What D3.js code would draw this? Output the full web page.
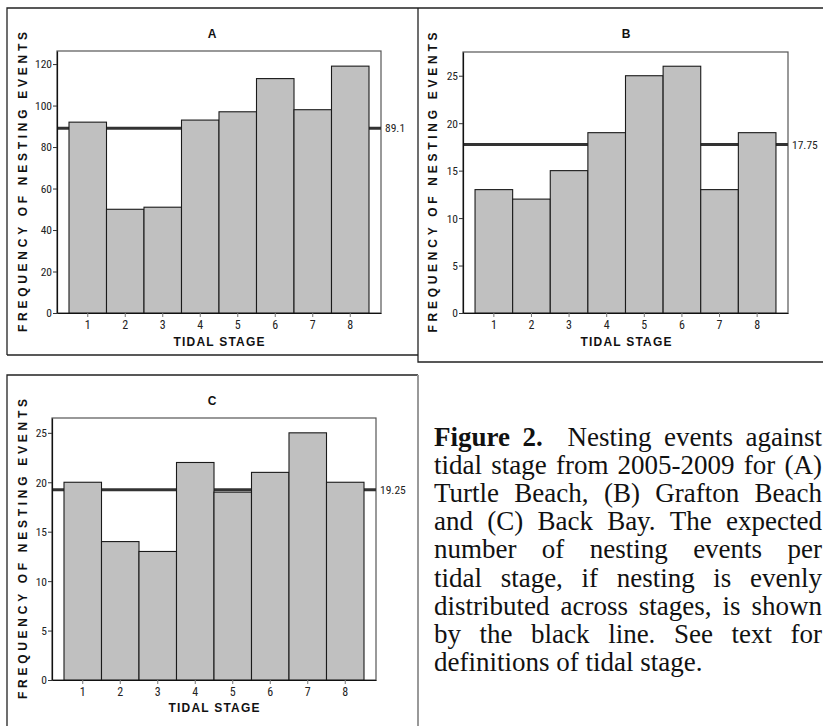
<!DOCTYPE html>
<html>
<head>
<meta charset="utf-8">
<script src="https://cdn.jsdelivr.net/npm/d3@7"></script>
<style>
  html, body { margin: 0; padding: 0; background: #fff; }
  svg { display: block; }
  .num { font-family: "Roboto Condensed", "DejaVu Sans Condensed", sans-serif; fill: #222; }
  .tick text { font-family: "Roboto Condensed", "DejaVu Sans Condensed", sans-serif; fill: #222; }
  .lab { font-family: "Liberation Sans", Arial, sans-serif; font-weight: bold; fill: #111; }
  .cap { font-family: "Liberation Serif", "Times New Roman", serif; fill: #111; }
</style>
</head>
<body>
<svg id="fig" width="823" height="726"></svg>
<script>
// Tidal stages on the x axis
const stages = [1, 2, 3, 4, 5, 6, 7, 8];

// Nesting events per tidal stage, 2005-2009
const turtleBeach  = [92, 50, 51, 93, 97, 113, 98, 119];
const graftonBeach = [13, 12, 15, 19, 25, 26, 13, 19];
const backBay      = [20, 14, 13, 22, 19, 21, 25, 20];

// Expected events per stage if nesting were spread evenly
const expectedA = 89.1;
const expectedB = 17.75;
const expectedC = 19.25;

// Axis ticks
const yTicksA = [0, 20, 40, 60, 80, 100, 120];
const yTicksB = [0, 5, 10, 15, 20, 25];
const yTicksC = [0, 5, 10, 15, 20, 25];

const panelTitles = ["A", "B", "C"];
const xAxisTitle = "TIDAL STAGE";
const yAxisTitle = "FREQUENCY OF NESTING EVENTS";

const captionLead = ["Figure", "2."];
const captionLines = [
  "Nesting events against",
  "tidal stage from 2005-2009 for (A)",
  "Turtle Beach, (B) Grafton Beach",
  "and (C) Back Bay. The expected",
  "number of nesting events per",
  "tidal stage, if nesting is evenly",
  "distributed across stages, is shown",
  "by the black line. See text for",
  "definitions of tidal stage."
];

const svg = d3.select("#fig");

// Panel frames
const frame = svg.append("g").attr("fill", "none").attr("stroke", "#222").attr("stroke-width", 1.3);
frame.append("path").attr("d", "M7,355 V8 H823");          // A left + shared top
frame.append("path").attr("d", "M7,355 H418");             // A bottom
frame.append("path").attr("d", "M418,8 V362 H823");        // divider + B bottom
frame.append("path").attr("d", "M7,726 V375 H418");        // C left + top
frame.append("path").attr("d", "M418,375 V726").attr("stroke", "#999").attr("stroke-width", 2);

const panels = [
  { title: panelTitles[0], values: turtleBeach, expected: expectedA, ticks: yTicksA, yMax: 126.3,
    plot: { l: 57, t: 51, r: 381, b: 313 }, titleX: 212, titleY: 38, xLabX: 219, xLabY: 346, yLabX: 23 },
  { title: panelTitles[1], values: graftonBeach, expected: expectedB, ticks: yTicksB, yMax: 27.5,
    plot: { l: 463, t: 52, r: 788, b: 313 }, titleX: 626, titleY: 38, xLabX: 626, xLabY: 346, yLabX: 433 },
  { title: panelTitles[2], values: backBay, expected: expectedC, ticks: yTicksC, yMax: 26.5,
    plot: { l: 52, t: 418, r: 376, b: 680 }, titleX: 212, titleY: 405, xLabX: 214, xLabY: 712, yLabX: 23 }
];

panels.forEach(p => {
  const { l, t, r, b } = p.plot;
  const g = svg.append("g");

  const x = d3.scaleBand().domain(stages).range([l, r]).paddingInner(0).paddingOuter(0.32);
  const y = d3.scaleLinear().domain([0, p.yMax]).range([b, t]);

  // plot frame
  g.append("rect").attr("x", l).attr("y", t).attr("width", r - l).attr("height", b - t)
    .attr("fill", "#fff").attr("stroke", "#555").attr("stroke-width", 1.2);

  // expected-value line, behind the bars
  g.append("line")
    .attr("x1", l).attr("x2", r)
    .attr("y1", y(p.expected)).attr("y2", y(p.expected))
    .attr("stroke", "#333").attr("stroke-width", 3);

  g.append("text").attr("class", "num")
    .attr("x", r + 4).attr("y", y(p.expected) + 4)
    .attr("font-size", 11.5)
    .text(p.expected);

  // bars
  g.selectAll("rect.bar").data(stages).join("rect")
    .attr("class", "bar")
    .attr("x", d => x(d))
    .attr("width", x.bandwidth())
    .attr("y", (d, i) => y(p.values[i]))
    .attr("height", (d, i) => y(0) - y(p.values[i]))
    .attr("fill", "#c0c0c0").attr("stroke", "#1a1a1a").attr("stroke-width", 1.1);

  // axes
  const ya = g.append("g").attr("transform", `translate(${l},0)`)
    .call(d3.axisLeft(y).tickValues(p.ticks).tickSize(4).tickPadding(1).tickSizeOuter(0));
  ya.select(".domain").attr("stroke", "#111").attr("stroke-width", 1.2);
  ya.selectAll(".tick line").attr("stroke", "#333");
  ya.selectAll(".tick text").attr("font-size", 11.5).attr("dy", "0.34em");

  const xa = g.append("g").attr("transform", `translate(0,${b})`)
    .call(d3.axisBottom(x).tickSize(4).tickPadding(3).tickSizeOuter(0));
  xa.select(".domain").attr("stroke", "#111").attr("stroke-width", 1.2);
  xa.selectAll(".tick line").attr("stroke", "#777");
  xa.selectAll(".tick text").attr("font-size", 12);

  // titles
  g.append("text").attr("class", "lab").attr("x", p.titleX).attr("y", p.titleY)
    .attr("text-anchor", "middle").attr("font-size", 12).text(p.title);

  g.append("text").attr("class", "lab").attr("x", p.xLabX).attr("y", p.xLabY)
    .attr("text-anchor", "middle").attr("font-size", 12)
    .attr("textLength", 91).attr("lengthAdjust", "spacing").text(xAxisTitle);

  const yc = (t + b) / 2;
  g.append("text").attr("class", "lab")
    .attr("transform", `translate(${p.yLabX + 4.3},${yc}) rotate(-90)`)
    .attr("text-anchor", "middle").attr("font-size", 12)
    .attr("textLength", 300).attr("lengthAdjust", "spacing").text(yAxisTitle);
});

// Caption, justified between capLeft and capRight
const capLeft = 434, capRight = 822, capTop = 446, capStep = 28.1, capSize = 27;
const cap = svg.append("g").attr("class", "cap").attr("font-size", capSize);

captionLines.forEach((line, li) => {
  const words = line.split(" ").map(w => ({ t: w, bold: false, gapAfter: 1 }));
  if (li === 0) {
    const lead = captionLead.map(w => ({ t: w, bold: true, gapAfter: 1 }));
    lead[lead.length - 1].gapAfter = 2;
    words.unshift(...lead);
  }
  const txt = cap.append("text").attr("y", capTop + li * capStep);
  const spans = words.map(w => txt.append("tspan")
    .attr("font-weight", w.bold ? "bold" : null).text(w.t));
  const widths = spans.map(s => s.node().getComputedTextLength());
  const total = d3.sum(widths);
  const weights = d3.sum(words.slice(0, -1), w => w.gapAfter);
  const last = li === captionLines.length - 1;
  const gap = last ? capSize * 0.25 : (capRight - capLeft - total) / weights;
  let cx = capLeft;
  spans.forEach((s, i) => {
    s.attr("x", cx);
    cx += widths[i] + gap * words[i].gapAfter;
  });
});
</script>
</body>
</html>
